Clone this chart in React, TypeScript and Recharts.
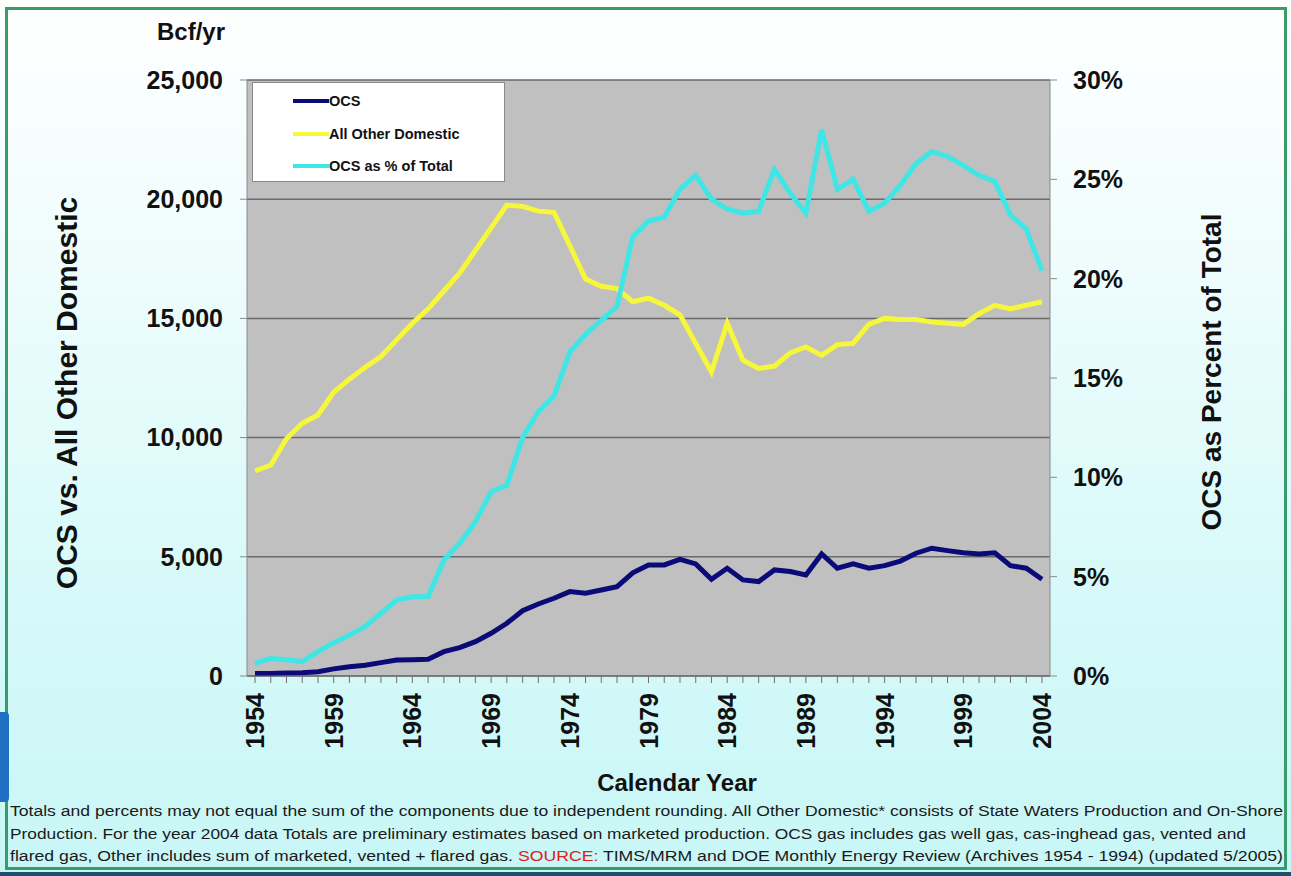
import { LineChart, Line, XAxis, YAxis, CartesianGrid, Legend } from 'recharts'

const years = [
  1954, 1955, 1956, 1957, 1958, 1959, 1960, 1961, 1962, 1963,
  1964, 1965, 1966, 1967, 1968, 1969, 1970, 1971, 1972, 1973,
  1974, 1975, 1976, 1977, 1978, 1979, 1980, 1981, 1982, 1983,
  1984, 1985, 1986, 1987, 1988, 1989, 1990, 1991, 1992, 1993,
  1994, 1995, 1996, 1997, 1998, 1999, 2000, 2001, 2002, 2003,
  2004,
]

// Bcf/yr
const ocs = [
  100, 110, 130, 140, 180, 300, 390, 450, 560, 670,
  680, 700, 1020, 1190, 1440, 1790, 2210, 2740, 3020, 3260,
  3540, 3470, 3610, 3750, 4330, 4660, 4660, 4890, 4700, 4060,
  4520, 4030, 3960, 4450, 4380, 4240, 5120, 4520, 4700, 4520,
  4630, 4820, 5150, 5360, 5260, 5170, 5120, 5170, 4630, 4520,
  4060,
]

const otherDomestic = [
  8600, 8850, 9950, 10600, 10950, 11900, 12450, 12950, 13400, 14100,
  14800, 15400, 16150, 16900, 17850, 18800, 19750, 19700, 19500, 19450,
  18050, 16650, 16350, 16250, 15700, 15850, 15550, 15150, 13950, 12750,
  14800, 13250, 12900, 13000, 13550, 13800, 13450, 13900, 13950, 14750,
  15000, 14950, 14950, 14850, 14800, 14750, 15200, 15550, 15400, 15550,
  15700,
]

// percent
const ocsPercent = [
  0.65, 0.88, 0.82, 0.72, 1.22, 1.68, 2.06, 2.5, 3.16, 3.82,
  3.99, 4.0, 5.84, 6.68, 7.75, 9.28, 9.6, 12.0, 13.3, 14.1,
  16.3, 17.2, 17.9, 18.6, 22.1, 22.9, 23.1, 24.5, 25.2, 24.0,
  23.5, 23.3, 23.4, 25.5, 24.3, 23.3, 27.5, 24.5, 25.0, 23.4,
  23.8, 24.7, 25.8, 26.4, 26.15, 25.7, 25.2, 24.9, 23.2, 22.5,
  20.4,
]

const leftTicks = [0, 5000, 10000, 15000, 20000, 25000]
const rightTicks = [0, 5, 10, 15, 20, 25, 30]
const labeledYears = [1954, 1959, 1964, 1969, 1974, 1979, 1984, 1989, 1994, 1999, 2004]

const series = [
  { key: 'ocs', name: 'OCS', color: '#0a0a78', axis: 'left' },
  { key: 'other', name: 'All Other Domestic', color: '#f6f63a', axis: 'left' },
  { key: 'pct', name: 'OCS as % of Total', color: '#3ee6e6', axis: 'right' },
]

const data = years.map((year, i) => ({
  year,
  ocs: ocs[i],
  other: otherDomestic[i],
  pct: ocsPercent[i],
}))

const FONT = '"Liberation Sans", Arial, sans-serif'

function YearTick({ x, y, payload }: any) {
  if (!labeledYears.includes(payload.value)) return null
  const ty = y + 8
  return (
    <text
      x={x}
      y={ty}
      dy="0.36em"
      transform={`rotate(-90, ${x}, ${ty})`}
      textAnchor="end"
      fontSize={25}
      fontWeight="bold"
      fontFamily={FONT}
      fill="#111"
    >
      {payload.value}
    </text>
  )
}

function LegendBox() {
  return (
    <div
      style={{
        width: 253,
        height: 100,
        background: '#fff',
        border: '1px solid #8a8a8a',
        boxSizing: 'border-box',
        position: 'relative',
      }}
    >
      {series.map((s, i) => (
        <div
          key={s.key}
          style={{
            position: 'absolute',
            left: 40,
            top: 9 + i * 32.5,
            height: 18,
            display: 'flex',
            alignItems: 'center',
          }}
        >
          <span style={{ display: 'inline-block', width: 36, height: 4, background: s.color }} />
          <span style={{ fontSize: 14.5, fontWeight: 'bold', fontFamily: FONT, color: '#111' }}>{s.name}</span>
        </div>
      ))}
    </div>
  )
}

const rotated = (cx: number, cy: number, size: number): React.CSSProperties => ({
  position: 'absolute',
  left: cx,
  top: cy,
  transform: 'translate(-50%, -50%) rotate(-90deg)',
  whiteSpace: 'nowrap',
  fontSize: size,
  fontWeight: 'bold',
  fontFamily: FONT,
  color: '#111',
})

export default function App() {
  return (
    <div
      style={{
        position: 'absolute',
        left: 0,
        top: 0,
        width: 1291,
        height: 876,
        overflow: 'hidden',
        background: 'linear-gradient(to bottom, #ffffff 0%, #f2fdfd 25%, #d6f9f9 70%, #c8f6f6 100%)',
      }}
    >
      {/* slide frame */}
      <div
        style={{
          position: 'absolute',
          left: 5,
          top: 7,
          width: 1282,
          height: 863,
          border: '3px solid #3a9a6a',
          boxSizing: 'border-box',
        }}
      />
      <div style={{ position: 'absolute', left: 0, top: 712, width: 9, height: 90, background: '#1f6fc2', borderRadius: '0 4px 4px 0' }} />
      <div style={{ position: 'absolute', left: 0, top: 872, width: 1291, height: 4, background: '#1c4e6e' }} />

      <div style={{ position: 'absolute', left: 157, top: 18, fontSize: 24, fontWeight: 'bold', fontFamily: FONT, color: '#111' }}>
        Bcf/yr
      </div>
      <div style={rotated(67, 393, 30)}>OCS vs. All Other Domestic</div>
      <div style={rotated(1212, 372, 28)}>OCS as Percent of Total</div>
      <div
        style={{
          position: 'absolute',
          left: 677,
          top: 783,
          transform: 'translate(-50%, -50%)',
          fontSize: 24,
          fontWeight: 'bold',
          fontFamily: FONT,
          color: '#111',
          whiteSpace: 'nowrap',
        }}
      >
        Calendar Year
      </div>

      <LineChart
        width={1291}
        height={876}
        data={data}
        margin={{ top: 80, right: 151, bottom: 120, left: 157 }}
        style={{ position: 'absolute', left: 0, top: 0 }}
      >
        <CartesianGrid yAxisId="left" vertical={false} stroke="#6a6a6a" strokeWidth={1.5} fill="#c0c0c0" />
        <XAxis
          dataKey="year"
          interval={0}
          height={80}
          padding={{ left: 8, right: 8 }}
          tick={<YearTick />}
          tickSize={7}
          axisLine={{ stroke: '#707070' }}
          tickLine={{ stroke: '#707070' }}
        />
        <YAxis
          yAxisId="left"
          width={90}
          domain={[0, 25000]}
          ticks={leftTicks}
          tickFormatter={(v: number) => v.toLocaleString('en-US')}
          tickSize={7}
          tickMargin={17}
          tick={{ fontSize: 25, fontWeight: 'bold', fontFamily: FONT, fill: '#111' }}
          axisLine={{ stroke: '#8a8a8a' }}
          tickLine={{ stroke: '#8a8a8a' }}
        />
        <YAxis
          yAxisId="right"
          orientation="right"
          width={90}
          domain={[0, 30]}
          ticks={rightTicks}
          tickFormatter={(v: number) => `${v}%`}
          tickSize={7}
          tickMargin={16}
          tick={{ fontSize: 25, fontWeight: 'bold', fontFamily: FONT, fill: '#111' }}
          axisLine={{ stroke: '#8a8a8a' }}
          tickLine={{ stroke: '#8a8a8a' }}
        />
        {series.map((s) => (
          <Line
            key={s.key}
            yAxisId={s.axis}
            dataKey={s.key}
            name={s.name}
            type="linear"
            stroke={s.color}
            strokeWidth={5}
            dot={false}
            isAnimationActive={false}
          />
        ))}
        <Legend
          layout="vertical"
          align="center"
          verticalAlign="middle"
          content={<LegendBox />}
          wrapperStyle={{ left: 252, top: 82, width: 253, height: 100 }}
        />
      </LineChart>

      <svg width={1291} height={80} style={{ position: 'absolute', left: 0, top: 796 }}>
        <g fontFamily={'"Liberation Sans Narrow", "Liberation Sans", Arial, sans-serif'} fontSize={15.5} fill="#1a1a1a">
          <text x={10} y={20} textLength={1273} lengthAdjust="spacingAndGlyphs">
            Totals and percents may not equal the sum of the components due to independent rounding.  All Other Domestic* consists of State Waters Production and On-Shore
          </text>
          <text x={10} y={42.5} textLength={1236} lengthAdjust="spacingAndGlyphs">
            Production.  For the year 2004 data Totals are preliminary estimates based on marketed production.  OCS gas includes gas well gas, cas-inghead gas, vented and
          </text>
          <text x={10} y={65} textLength={1273} lengthAdjust="spacingAndGlyphs">
            flared gas, Other includes sum of marketed, vented + flared gas. <tspan fill="#e0201c">SOURCE:</tspan>  TIMS/MRM and DOE Monthly Energy Review (Archives 1954 - 1994) (updated 5/2005)
          </text>
        </g>
      </svg>
    </div>
  )
}
